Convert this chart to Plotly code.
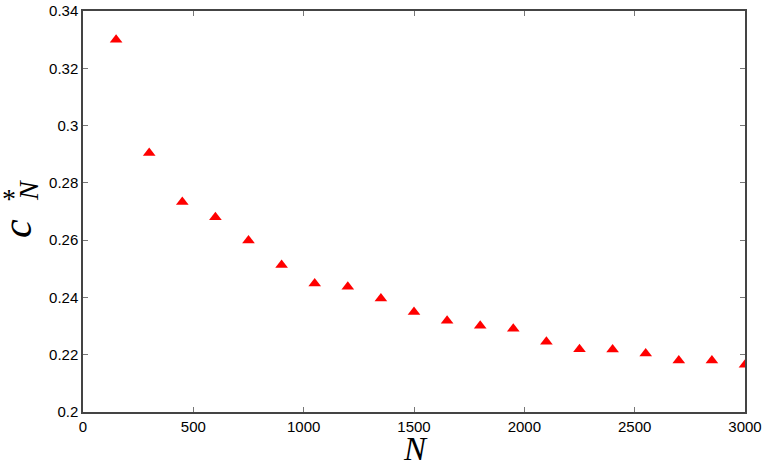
import plotly.graph_objects as go

n_values = [150, 300, 450, 600, 750, 900, 1050, 1200, 1350, 1500,
            1650, 1800, 1950, 2100, 2250, 2400, 2550, 2700, 2850, 3000]
c_star = [0.3300, 0.2904, 0.2733, 0.2680, 0.2599, 0.2513, 0.2449, 0.2437, 0.2396, 0.2349,
          0.2319, 0.2301, 0.2291, 0.2245, 0.2219, 0.2218, 0.2204, 0.2180, 0.2180, 0.2165]

x_ticks = [0, 500, 1000, 1500, 2000, 2500, 3000]
y_ticks = [0.2, 0.22, 0.24, 0.26, 0.28, 0.3, 0.32, 0.34]
y_labels = ['0.2', '0.22', '0.24', '0.26', '0.28', '0.3', '0.32', '0.34']

fig = go.Figure()
fig.add_trace(go.Scatter(x=n_values, y=c_star, mode='markers',
                         marker=dict(symbol='triangle-up', size=11, color='#ff0000',
                                     line=dict(width=0)),
                         showlegend=False))

axis_style = dict(showline=True, linecolor='#444444', linewidth=1.5, mirror='ticks',
                  ticks='inside', ticklen=5, tickcolor='#777777', showgrid=False,
                  zeroline=False, automargin=False,
                  tickfont=dict(family='Liberation Sans', size=15, color='black'))

fig.update_xaxes(range=[0, 3000], tickvals=x_ticks, **axis_style)
fig.update_yaxes(range=[0.2, 0.34], tickvals=y_ticks, ticktext=y_labels, **axis_style)

# axis titles as annotations, pixel offsets from the plot's bottom-left corner
serif = 'Liberation Serif'
title_bits = [
    # text, xshift, yshift, size, angle
    ('<i>N</i>', 332, -37, 33, 0),
    ('<i>c</i>', -66, 183, 42, -90),
    ('*', -74, 214, 28, 0),   # an asterisk looks the same turned or not
    ('<i>N</i>', -55, 221, 28, -90),
]
for txt, dx, dy, size, ang in title_bits:
    fig.add_annotation(text=txt, xref='paper', yref='paper', x=0, y=0,
                       xanchor='center', yanchor='middle', xshift=dx, yshift=dy,
                       textangle=ang, showarrow=False,
                       font=dict(family=serif, size=size, color='black'))

fig.update_layout(width=766, height=462, plot_bgcolor='white', paper_bgcolor='white',
                  margin=dict(l=83, r=21, t=11, b=50))

# drop the browser's default 8px body margin so the figure sits at the window corner
fig.write_html("out.html", config={'displayModeBar': False},
               post_script="document.body.style.margin='0px';")
